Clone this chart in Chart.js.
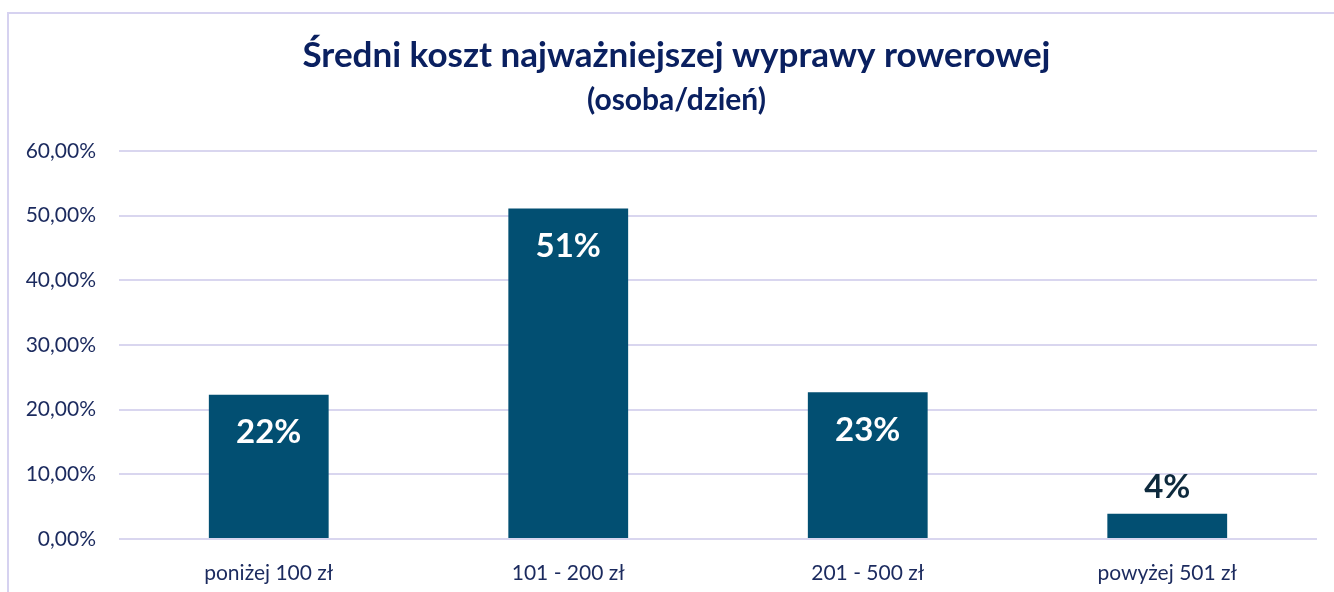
<!DOCTYPE html>
<html><head><meta charset="utf-8">
<script src="https://cdn.jsdelivr.net/npm/chart.js@4/dist/chart.umd.min.js"></script>
<style>
html,body{margin:0;padding:0;background:#fff;}
#wrap{position:relative;width:1334px;height:592px;overflow:hidden;}
#frame{position:absolute;left:7px;top:12px;width:1340px;height:600px;border:2px solid #D6D2F0;box-sizing:border-box;}
canvas{position:absolute;left:0;top:0;}
</style></head>
<body><div id="wrap"><div id="frame"></div><canvas id="c" width="1334" height="592"></canvas></div>
<script>
const categories = ['poniżej 100 zł', '101 - 200 zł', '201 - 500 zł', 'powyżej 501 zł'];
const values = [22.3, 51.1, 22.7, 3.9];
const valueLabels = ['22%', '51%', '23%', '4%'];
const yTicks = [0, 10, 20, 30, 40, 50, 60];
const titleText = 'Średni koszt najważniejszej wyprawy rowerowej';
const subtitleText = '(osoba/dzień)';

const FONT = 'Lato, "Open Sans", sans-serif';
const NAVY = '#1B2A5E';

const labelPlugin = {
  id: 'valueLabels',
  afterLayout(chart) {
    // let the y tick labels extend into the left layout padding
    chart.scales.y.left = 0;
  },
  afterDatasetsDraw(chart) {
    const ctx = chart.ctx;
    const meta = chart.getDatasetMeta(0);
    ctx.save();
    ctx.font = 'bold 33px ' + FONT;
    ctx.textAlign = 'center';
    ctx.textBaseline = 'middle';
    meta.data.forEach((bar, i) => {
      const h = bar.base - bar.y;
      if (h > 60) {
        ctx.fillStyle = '#FFFFFF';
        ctx.fillText(valueLabels[i], bar.x, bar.y + 38);
      } else {
        ctx.fillStyle = '#0E2A3D';
        ctx.fillText(valueLabels[i], bar.x, bar.y - 26);
      }
    });
    ctx.restore();
  }
};

new Chart(document.getElementById('c'), {
  type: 'bar',
  data: {
    labels: categories,
    datasets: [{
      data: values,
      backgroundColor: '#024F72',
      categoryPercentage: 1.0,
      barPercentage: 0.4
    }]
  },
  options: {
    responsive: false,
    animation: false,
    devicePixelRatio: 1,
    layout: { padding: { left: 36, right: 17, top: 0, bottom: 0 } },
    plugins: {
      legend: { display: false },
      tooltip: { enabled: false },
      title: {
        display: true, text: titleText, color: '#0A2060',
        font: { family: FONT, size: 35, weight: 'bold' },
        padding: { top: 35, bottom: 5 }
      },
      subtitle: {
        display: true, text: subtitleText, color: '#0A2060',
        font: { family: FONT, size: 30, weight: 'bold' },
        padding: { top: 0, bottom: 33 }
      }
    },
    scales: {
      x: {
        afterFit(s) { s.height = 53; },
        grid: { display: false, drawTicks: false },
        border: { display: false },
        ticks: { color: NAVY, font: { family: FONT, size: 21 }, padding: 22 }
      },
      y: {
        min: 0, max: 60,
        afterFit(s) { s.width = 83; },
        afterBuildTicks(s) { s.ticks = yTicks.map(v => ({ value: v })); },
        grid: { color: '#D9D6EF', lineWidth: 2, drawTicks: false },
        border: { display: false },
        ticks: {
          color: NAVY, font: { family: FONT, size: 21 }, padding: 23,
          callback: v => v.toFixed(2).replace('.', ',') + '%'
        }
      }
    }
  },
  plugins: [labelPlugin]
});
</script></body></html>
